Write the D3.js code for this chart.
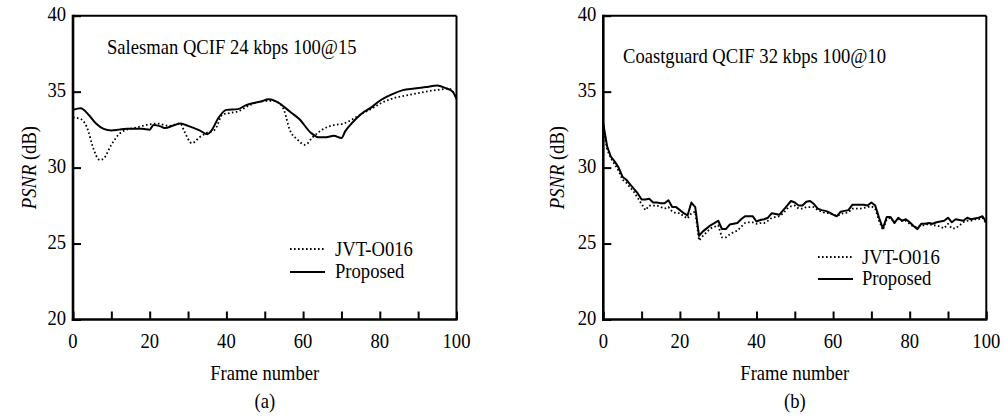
<!DOCTYPE html>
<html><head><meta charset="utf-8">
<script src="https://cdn.jsdelivr.net/npm/d3@7"></script>
<style>
html,body{margin:0;padding:0;background:#fff;}
svg text{font-family:"Liberation Serif","Times New Roman",serif;fill:#000;}
</style></head>
<body><svg id="c" width="1005" height="419"></svg>
<script>
// ---------- data ----------
const yTicks = [20, 25, 30, 35, 40];
const xTicks = [0, 10, 20, 30, 40, 50, 60, 70, 80, 90, 100];
const seriesNames = ["JVT-O016", "Proposed"];
const titles = ["Salesman QCIF 24 kbps 100@15", "Coastguard QCIF 32 kbps 100@10"];
const panelLabels = ["(a)", "(b)"];

const framesA_prop = [0,2,4,6,8,10,12,14,16,18,20,21,23,24,26,28,30,33,35,36,38,40,43,45,49,51,54,55,57,59,62,64,66,68,70,71,73,75,78,80,83,86,89,92,95,97,99,100];
const proposedA   = [33.8,33.9,33.5,32.9,32.55,32.45,32.5,32.55,32.55,32.55,32.5,32.8,32.7,32.6,32.75,32.9,32.75,32.45,32.2,32.4,33.3,33.8,33.85,34.1,34.35,34.5,34.2,34.0,33.6,33.2,32.3,32.0,32.0,32.1,31.95,32.4,33.0,33.5,34.0,34.4,34.8,35.1,35.2,35.3,35.4,35.25,35.0,34.5];
const framesA_jvt = [0,2,4,5,7,8,10,12,14,16,19,22,25,28,29,31,33,35,37,39,41,43,46,49,52,54,55,56.5,58.5,60.5,62.5,65,68,70.5,73,75,78,80,84,88,92,96,98,100];
const jvtA        = [33.3,33.2,32.4,31.5,30.5,30.6,31.5,32.2,32.5,32.6,32.8,32.9,32.75,32.9,32.4,31.6,32.0,32.3,32.5,33.5,33.6,33.7,34.1,34.35,34.4,34.2,33.8,32.5,31.85,31.5,32.0,32.5,32.8,32.9,33.2,33.5,33.9,34.2,34.6,34.8,35.0,35.15,35.2,34.6];

const framesB = d3.range(0, 101);
const proposedB = [32.9,31.4,30.7,30.4,30.0,29.4,29.2,28.9,28.6,28.3,27.9,27.9,27.95,27.7,27.7,27.65,27.65,27.85,27.4,27.4,27.2,27.0,26.85,27.7,27.4,25.5,25.8,26.0,26.2,26.35,26.5,25.95,25.95,26.25,26.3,26.35,26.6,26.8,26.8,26.8,26.45,26.55,26.6,26.7,27.0,26.95,26.9,27.2,27.5,27.8,27.7,27.5,27.5,27.75,27.8,27.6,27.3,27.2,27.15,27.05,26.9,26.8,27.1,27.15,27.2,27.55,27.55,27.55,27.55,27.5,27.7,27.5,26.7,26.0,26.75,26.75,26.35,26.7,26.5,26.6,26.4,26.15,25.95,26.3,26.3,26.35,26.3,26.4,26.45,26.5,26.7,26.4,26.6,26.55,26.5,26.7,26.6,26.65,26.7,26.8,26.4];
const jvtB = [32.6,31.2,30.6,30.2,29.8,29.2,29.0,28.7,28.4,28.0,27.6,27.2,27.5,27.5,27.5,27.4,27.3,27.4,27.1,27.0,27.0,26.8,26.65,27.0,27.1,25.2,25.5,25.75,26.0,26.1,26.2,25.4,25.4,25.6,25.75,25.85,26.1,26.35,26.4,26.4,26.3,26.35,26.35,26.5,26.7,26.75,26.8,27.0,27.3,27.45,27.5,27.3,27.3,27.4,27.4,27.4,27.2,27.1,27.0,27.0,26.9,26.8,26.95,27.0,27.05,27.3,27.3,27.3,27.35,27.4,27.45,27.3,26.5,25.9,26.6,26.7,26.4,26.6,26.5,26.5,26.3,26.1,26.1,26.2,26.2,26.3,26.2,26.2,26.1,26.0,26.3,26.0,26.0,26.2,26.4,26.5,26.5,26.6,26.6,26.7,26.3];

// ---------- layout ----------
const svg = d3.select("#c");
const SY = 1.14, FS = 18.6;
function txt(g, x, y, s, anchor) {
  return g.append("text").attr("transform", `translate(${x},${y}) scale(1,${SY})`)
    .attr("font-size", FS).attr("text-anchor", anchor || "start").text(s);
}

const panels = [
  {x0: 73, x1: 456.5, title: titles[0], tx: 107, ty: 54, curve: d3.curveMonotoneX,
   prop: framesA_prop.map((f,i)=>[f, proposedA[i]]), jvt: framesA_jvt.map((f,i)=>[f, jvtA[i]]),
   leg: {lx: 290, ly1: 249, ly2: 272, tx: 335}, ylx: 36, lab: panelLabels[0]},
  {x0: 603.3, x1: 986.3, title: titles[1], tx: 623, ty: 63, curve: d3.curveLinear,
   prop: framesB.map((f,i)=>[f, proposedB[i]]), jvt: framesB.map((f,i)=>[f, jvtB[i]]),
   leg: {lx: 818, ly1: 257, ly2: 279, tx: 862}, ylx: 564, lab: panelLabels[1]}
];
const yTop = 15.7, yBot = 319.5;

panels.forEach(p => {
  const x = d3.scaleLinear().domain([0, 100]).range([p.x0, p.x1]);
  const y = d3.scaleLinear().domain([20, 40]).range([yBot, yTop]);
  const g = svg.append("g");

  // ticks (inward)
  const ya = g.append("g").attr("transform", `translate(${p.x0},0)`)
    .call(d3.axisLeft(y).tickValues(yTicks).tickSize(-8).tickPadding(0).tickFormat(""));
  ya.select(".domain").remove();
  ya.selectAll("line").attr("stroke", "#000").attr("stroke-width", 2);
  const xa = g.append("g").attr("transform", `translate(0,${yBot})`)
    .call(d3.axisBottom(x).tickValues(xTicks).tickSize(-8).tickFormat(""));
  xa.select(".domain").remove();
  xa.selectAll("line").attr("stroke", "#000").attr("stroke-width", 2);

  // tick labels
  yTicks.forEach(v => txt(g, p.x0 - 7, y(v) + 5.5, String(v), "end"));
  xTicks.filter(v => v % 20 === 0).forEach(v => txt(g, x(v), 348, String(v), "middle"));

  // lines
  const line = d3.line().x(d => x(d[0])).y(d => y(d[1])).curve(p.curve);
  g.append("path").datum(p.jvt).attr("d", line).attr("fill", "none").attr("stroke", "#000")
    .attr("stroke-width", 1.8).attr("stroke-dasharray", "1.6,2.4");
  g.append("path").datum(p.prop).attr("d", line).attr("fill", "none").attr("stroke", "#000")
    .attr("stroke-width", 2).attr("stroke-linejoin", "round");

  // frame
  g.append("line").attr("x1", p.x0).attr("x2", p.x1).attr("y1", yTop).attr("y2", yTop).attr("stroke", "#000").attr("stroke-width", 2);
  g.append("line").attr("x1", p.x1).attr("x2", p.x1).attr("y1", yTop).attr("y2", yBot).attr("stroke", "#000").attr("stroke-width", 2);
  g.append("line").attr("x1", p.x0).attr("x2", p.x0).attr("y1", yTop - 1).attr("y2", yBot + 1.2).attr("stroke", "#000").attr("stroke-width", 2.6);
  g.append("line").attr("x1", p.x0 - 1.2).attr("x2", p.x1 + 1).attr("y1", yBot).attr("y2", yBot).attr("stroke", "#000").attr("stroke-width", 2.6);

  // title
  txt(g, p.tx, p.ty, p.title);

  // legend
  g.append("line").attr("x1", p.leg.lx).attr("x2", p.leg.lx + 35).attr("y1", p.leg.ly1).attr("y2", p.leg.ly1)
    .attr("stroke", "#000").attr("stroke-width", 1.8).attr("stroke-dasharray", "1.6,2.4");
  g.append("line").attr("x1", p.leg.lx).attr("x2", p.leg.lx + 35).attr("y1", p.leg.ly2).attr("y2", p.leg.ly2)
    .attr("stroke", "#000").attr("stroke-width", 2);
  txt(g, p.leg.tx, p.leg.ly1 + 6.5, seriesNames[0]);
  txt(g, p.leg.tx, p.leg.ly2 + 6, seriesNames[1]);

  // axis titles
  const xm = (p.x0 + p.x1) / 2;
  txt(g, xm, 380, "Frame number", "middle");
  txt(g, xm, 408, p.lab, "middle");
  const yl = g.append("text").attr("transform", `translate(${p.ylx},${(yTop + yBot) / 2}) rotate(-90) scale(1,${SY})`)
    .attr("font-size", FS).attr("text-anchor", "middle");
  yl.append("tspan").attr("font-style", "italic").text("PSNR");
  yl.append("tspan").text(" (dB)");
});
</script></body></html>
